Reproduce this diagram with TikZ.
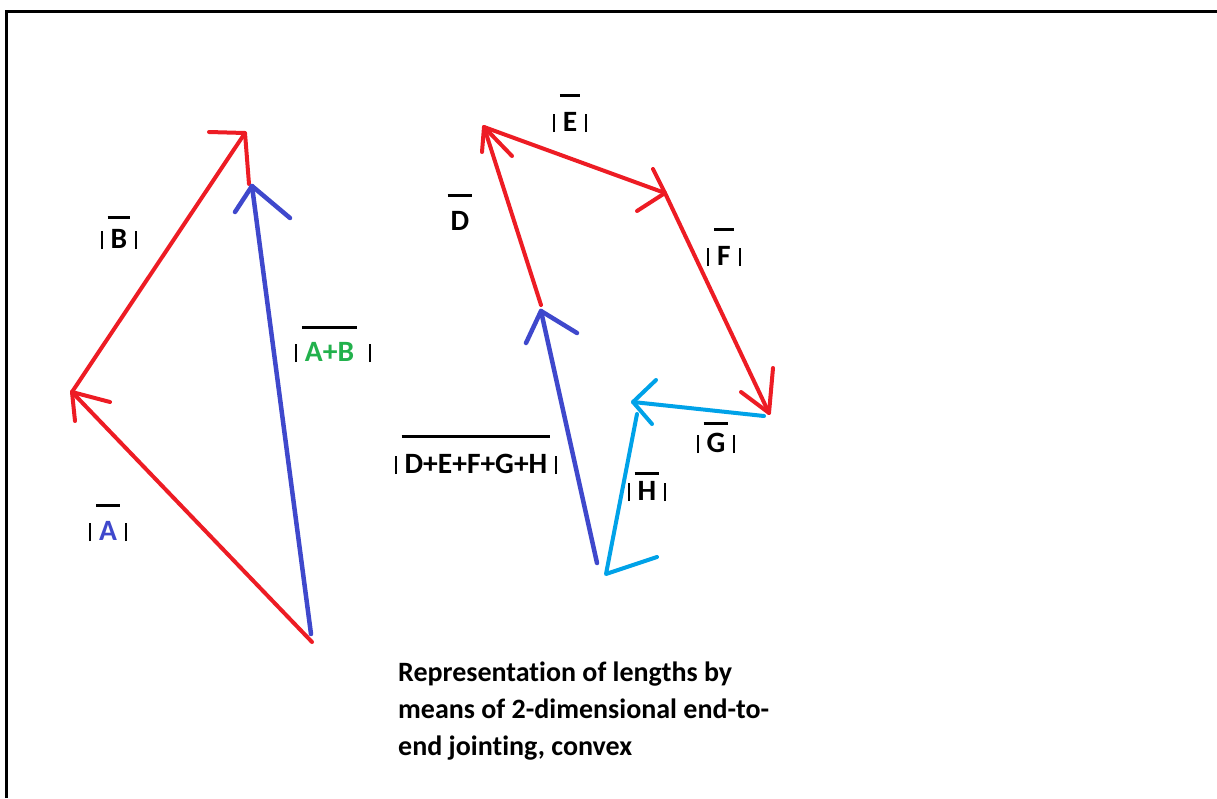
\documentclass[tikz,border=0pt]{standalone}
\usepackage{fontspec}
\setmainfont{Carlito}[Ligatures=NoCommon]
\usetikzlibrary{positioning}

\definecolor{pred}{RGB}{237,28,36}
\definecolor{pindigo}{RGB}{63,72,204}
\definecolor{psky}{RGB}{0,162,232}
\definecolor{pgreen}{RGB}{34,177,76}

\newcommand{\pipe}{\rule[-1pt]{1.8pt}{18pt}}
\newcommand{\ovl}[2][12pt]{\vbox{\hrule height 2.6pt\kern#1\hbox{\kern3pt#2\kern3pt}}}
\newcommand{\lenof}[2][12pt]{\pipe\hspace{5pt}\ovl[#1]{#2}\hspace{5pt}\pipe}

\begin{document}
\begin{tikzpicture}[
  x=1pt, y=-1pt, line cap=round, line join=round,
  vec/.style={line width=4pt},
  frame/.style={line width=2.6pt, line cap=butt, line join=miter},
  lbl/.style={anchor=base, inner sep=0pt, font=\fontsize{29.5}{34}\selectfont\bfseries},
  caption/.style={anchor=base west, inner sep=0pt, align=left,
                  font=\fontsize{28}{36.7}\selectfont\bfseries},
]
  \useasboundingbox (0,0) rectangle (1217,798);
  \draw[frame] (6.2,798) -- (6.2,11.2) -- (1217,11.2);

  % A, B and A+B
  \coordinate (o)   at (312,642);
  \coordinate (oAB) at (311,634);
  \coordinate (a)   at (72,392);
  \coordinate (b)   at (245,133);
  \coordinate (ab)  at (252,186);
  \draw[vec, pred] (o) -- (a);
  \draw[vec, pred] (a) ++(38,10) -- (a) -- ++(3,29);
  \draw[vec, pred] (a) -- (b);
  \draw[vec, pred] (b) ++(-36,-1) -- (b) -- ++(4,51);
  \draw[vec, pindigo, line width=4.5pt] (oAB) -- (ab);
  \draw[vec, pindigo, line width=4.5pt] (ab) ++(-17,26) -- (ab) -- ++(38,32);

  % D, E, F, G, H and their sum
  \coordinate (d0) at (541,305);
  \coordinate (d)  at (484,127);
  \coordinate (e)  at (665,193);
  \coordinate (f)  at (769,413);
  \coordinate (g0) at (764,416);
  \coordinate (g)  at (633,402);
  \coordinate (h0) at (637,414);
  \coordinate (h)  at (606,574);
  \coordinate (r0) at (597,563);
  \coordinate (r)  at (541,311);
  \draw[vec, pred] (d0) -- (d);
  \draw[vec, pred] (d) ++(-2,25) -- (d) -- ++(28,29);
  \draw[vec, pred] (d) -- (e);
  \draw[vec, pred] (e) ++(-12,-24) -- (e) -- ++(-28,18);
  \draw[vec, pred] (e) -- (f);
  \draw[vec, pred] (f) ++(4,-45) -- (f) -- ++(-28,-21);
  \draw[vec, psky] (g0) -- (g);
  \draw[vec, psky] (g) ++(23,-22) -- (g) -- ++(19,22);
  \draw[vec, psky] (h0) -- (h) -- ++(51,-17);
  \draw[vec, pindigo, line width=4.5pt] (r0) -- (r);
  \draw[vec, pindigo, line width=4.5pt] (r) ++(-15,32) -- (r) -- ++(36,22);

  \node[lbl] (lA)  at (108,540) {\lenof[14pt]{\color{pindigo}A}};
  \node[lbl] (lB)  at (119,248) {\lenof[10pt]{B}};
  \node[lbl] (lAB) at (333,361) {\pipe\hspace{5pt}\ovl[13pt]{\color{pgreen}A+B}\hspace{12pt}\pipe};
  \node[lbl] (lD)  at (460,230) {\ovl[14pt]{D}};
  \node[lbl] (lE)  at (570,131) {\lenof[15pt]{E}};
  \node[lbl] (lF)  at (724,265) {\lenof[15pt]{F}};
  \node[lbl] (lG)  at (716,452) {\lenof[8pt]{G}};
  \node[lbl] (lH)  at (647,500) {\lenof[6pt]{H}};
  \node[lbl] (lR)  at (476,473) {\lenof[16pt]{D+E+F+G+H}};

  \node[caption] (cap) at (398,755) {Representation of lengths by\\
    means of 2-dimensional end-to-\\end jointing, convex};
\end{tikzpicture}
\end{document}
